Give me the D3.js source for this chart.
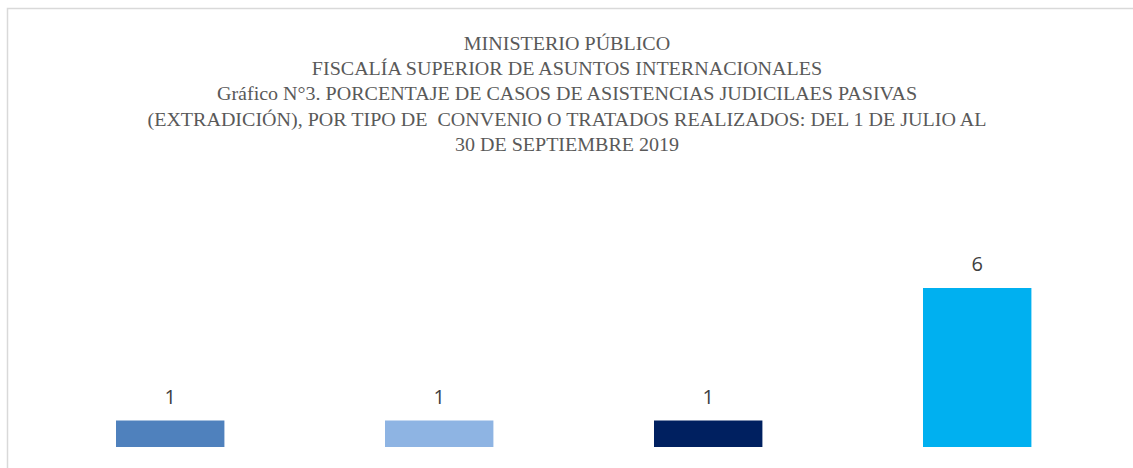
<!DOCTYPE html>
<html>
<head>
<meta charset="utf-8">
<script src="https://cdn.jsdelivr.net/npm/d3@7"></script>
<style>
  body { margin: 0; background: #fff; }
  svg { display: block; }
  .title { font-family: 'Liberation Serif', serif; font-size: 19.5px; fill: #595959; }
  .label { font-family: 'Open Sans', sans-serif; font-size: 20px; fill: #404040; }
</style>
</head>
<body>
<svg width="1133" height="468"></svg>
<script>
const categories = ['Convenio A', 'Convenio B', 'Convenio C', 'Tratado']
const values = [1, 1, 1, 6]
const colors = ['#4f81bd', '#8eb4e3', '#002060', '#00b0f0']
const titleLines = [
  'MINISTERIO PÚBLICO',
  'FISCALÍA SUPERIOR DE ASUNTOS INTERNACIONALES',
  'Gráfico N°3. PORCENTAJE DE CASOS DE ASISTENCIAS JUDICILAES PASIVAS',
  '(EXTRADICIÓN), POR TIPO DE  CONVENIO O TRATADOS REALIZADOS: DEL 1 DE JULIO AL',
  '30 DE SEPTIEMBRE 2019'
]

const svg = d3.select('svg')
const width = +svg.attr('width')

// chart frame, right and bottom edges fall outside the picture
svg.append('rect')
  .attr('x', 7.5)
  .attr('y', 8.5)
  .attr('width', width + 10)
  .attr('height', 500)
  .attr('fill', 'none')
  .attr('stroke', '#d9d9d9')
  .attr('stroke-width', 1.5)

// title
const lines = svg.append('g').selectAll('text').data(titleLines)
  .enter().append('text')
  .attr('class', 'title')
  .attr('x', 567)
  .attr('y', (d, i) => 49.5 + i * 25.4)
  .attr('text-anchor', 'middle')
  .style('white-space', 'pre')
  .text(d => d)

// fit title to the width of the longest line
const longest = lines.nodes()[3].getComputedTextLength()
const k = 839 / longest
lines.each(function () {
  const len = this.getComputedTextLength()
  d3.select(this)
    .attr('textLength', len * k)
    .attr('lengthAdjust', 'spacingAndGlyphs')
})

const xScale = d3.scaleBand()
  .domain(categories)
  .range([35.3, 1112.1])
  .paddingInner(0.597)
  .paddingOuter(0.3)

const yScale = d3.scaleLinear()
  .domain([0, 7])
  .range([447, 261.5])

const g = svg.append('g')

g.selectAll('rect').data(values)
  .enter().append('rect')
  .attr('x', (d, i) => xScale(categories[i]))
  .attr('y', d => yScale(d))
  .attr('width', xScale.bandwidth())
  .attr('height', d => yScale(0) - yScale(d))
  .attr('fill', (d, i) => colors[i])

g.selectAll('text').data(values)
  .enter().append('text')
  .attr('class', 'label')
  .attr('x', (d, i) => xScale(categories[i]) + xScale.bandwidth() / 2)
  .attr('y', d => yScale(d) - 17)
  .attr('text-anchor', 'middle')
  .text(d => d)
</script>
</body>
</html>
